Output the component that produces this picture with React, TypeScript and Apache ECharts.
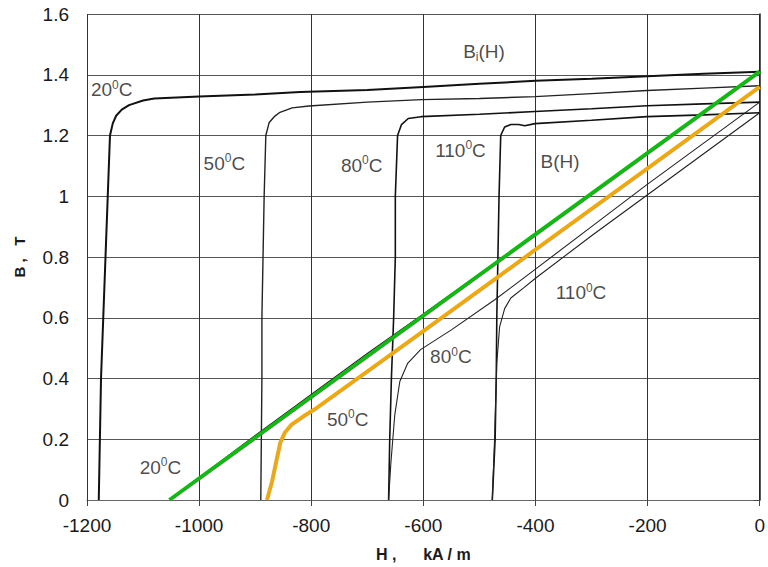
import React, { useEffect, useRef } from "react";
import * as echarts from "echarts";

// Intrinsic demagnetization curves Bi(H)  [H kA/m, B T]
const BI_20 = [[-1179,0],[-1175,0.4],[-1171,0.6],[-1167,0.8],[-1163,1.0],[-1159,1.2],[-1154,1.24],[-1148,1.265],[-1138,1.285],[-1125,1.3],[-1100,1.315],[-1080,1.322],[-1000,1.328],[-900,1.335],[-820,1.343],[-700,1.35],[-600,1.36],[-500,1.37],[-400,1.38],[-300,1.387],[-200,1.395],[-100,1.403],[0,1.41]];
const BI_50 = [[-890,0],[-888,0.4],[-888,0.6],[-886,0.8],[-884,1.0],[-881,1.2],[-875,1.243],[-866,1.262],[-857,1.275],[-834,1.291],[-804,1.297],[-700,1.31],[-603,1.318],[-500,1.322],[-401,1.328],[-300,1.338],[-201,1.348],[-100,1.356],[0,1.364]];
const BI_80 = [[-662,0],[-660,0.2],[-657,0.4],[-653,0.6],[-650,0.8],[-650,1.0],[-646,1.2],[-639,1.236],[-627,1.256],[-604,1.262],[-500,1.27],[-401,1.279],[-300,1.288],[-201,1.298],[-100,1.304],[0,1.31]];
const BI_110 = [[-477,0],[-472,0.2],[-470,0.4],[-469,0.6],[-467,0.8],[-465,1.0],[-462,1.2],[-455,1.228],[-444,1.236],[-430,1.236],[-419,1.232],[-401,1.239],[-300,1.25],[-201,1.262],[-100,1.268],[0,1.275]];

// Normal demagnetization curves B(H)
const B_20_BLACK = [[-1050,0.005],[-900,0.212],[-800,0.347],[-700,0.482],[-600,0.612],[-400,0.877],[-200,1.142],[0,1.41]];
const B_80 = [[-662,0],[-658,0.12],[-651,0.28],[-642,0.39],[-628,0.45],[-605,0.495],[-550,0.56],[-472,0.66],[-400,0.76],[-300,0.9],[-200,1.04],[-100,1.175],[0,1.31]];
const B_110 = [[-477,0],[-473,0.2],[-469,0.45],[-464,0.57],[-455,0.63],[-444,0.665],[-420,0.7],[-400,0.73],[-300,0.87],[-200,1.005],[-100,1.14],[0,1.275]];
const B_20_GREEN = [[-1053,0],[0,1.41]];
const B_50_ORANGE = [[-879,0],[-870,0.06],[-862,0.13],[-855,0.19],[-847,0.222],[-835,0.248],[-815,0.274],[-795,0.297],[-650,0.489],[-600,0.556],[-400,0.824],[-200,1.092],[0,1.36]];

// Text annotations: [H, B, rich text]
const LABELS: [number, number, string][] = [
  [-529, 1.475, "{a|B}{sub|i}{a|(H)}"],
  [-1193, 1.351, "{a|20}{sup|0}{a|C}"],
  [-992, 1.108, "{a|50}{sup|0}{a|C}"],
  [-747, 1.102, "{a|80}{sup|0}{a|C}"],
  [-579, 1.151, "{a|110}{sup|0}{a|C}"],
  [-391, 1.115, "{a|B(H)}"],
  [-364, 0.682, "{a|110}{sup|0}{a|C}"],
  [-588, 0.472, "{a|80}{sup|0}{a|C}"],
  [-772, 0.266, "{a|50}{sup|0}{a|C}"],
  [-1106, 0.108, "{a|20}{sup|0}{a|C}"],
];

const X_MIN = -1200, X_MAX = 0, X_STEP = 200;
const Y_MIN = 0, Y_MAX = 1.6, Y_STEP = 0.2;

const FONT = "Liberation Sans, Arial, sans-serif";

export default function App() {
  const ref = useRef<HTMLDivElement>(null);
  useEffect(() => {
    if (!ref.current) return;
    const chart = echarts.init(ref.current, null, { renderer: "svg" });
    const line = (data: number[][], color: string, width: number, z = 2) => ({
      type: "line",
      data,
      showSymbol: false,
      symbol: "none",
      smooth: false,
      lineStyle: { color, width },
      z,
      silent: true,
    });
    chart.setOption({
      animation: false,
      backgroundColor: "#ffffff",
      grid: { left: 87, right: 5, top: 14, bottom: 65 },
      xAxis: {
        type: "value",
        min: X_MIN,
        max: X_MAX,
        interval: X_STEP,
        name: "H ,      kA / m",
        nameLocation: "middle",
        nameGap: 46,
        nameTextStyle: { fontFamily: FONT, fontSize: 16, fontWeight: "bold", color: "#1a1a1a" },
        axisLine: { show: true, lineStyle: { color: "#666", width: 1 } },
        axisTick: { show: true, inside: false, length: 6, lineStyle: { color: "#444" } },
        axisLabel: { fontFamily: FONT, fontSize: 19, color: "#1a1a1a", margin: 16, formatter: (v: number) => String(v) },
        splitLine: { show: true, lineStyle: { color: "#333", width: 1 } },
      },
      yAxis: {
        type: "value",
        min: Y_MIN,
        max: Y_MAX,
        interval: Y_STEP,
        name: "B ,   T",
        nameLocation: "middle",
        nameRotate: 90,
        nameGap: 60,
        nameTextStyle: { fontFamily: FONT, fontSize: 15, fontWeight: "bold", color: "#1a1a1a" },
        axisLine: { show: true, lineStyle: { color: "#222", width: 1.5 } },
        axisTick: { show: true, inside: false, length: 6, lineStyle: { color: "#444" } },
        axisLabel: { fontFamily: FONT, fontSize: 19, color: "#1a1a1a", margin: 18 },
        splitLine: { show: true, lineStyle: { color: "#555", width: 1 } },
      },
      series: [
        line(BI_20, "#111", 2),
        line(BI_50, "#222", 1.4),
        line(BI_80, "#111", 1.6),
        line(BI_110, "#111", 1.6),
        line(B_20_BLACK, "#222", 1.2),
        line(B_80, "#222", 1.1),
        line(B_110, "#222", 1.1),
        line(B_50_ORANGE, "#e8a91c", 4, 4),
        line(B_20_GREEN, "#1bb31b", 4, 5),
        {
          type: "scatter",
          data: LABELS.map((l) => ({ value: [l[0], l[1]], text: l[2] })),
          symbolSize: 0,
          silent: true,
          z: 10,
          label: {
            show: true,
            position: "right",
            distance: 0,
            formatter: (p: any) => p.data.text,
            rich: {
              a: { fontFamily: FONT, fontSize: 19, color: "#1a1a1a", lineHeight: 22 },
              sup: { fontFamily: FONT, fontSize: 12, color: "#1a1a1a", lineHeight: 22, verticalAlign: "top", padding: [0, 0, 10, 0] },
              sub: { fontFamily: FONT, fontSize: 12, color: "#1a1a1a", lineHeight: 22, verticalAlign: "bottom", padding: [8, 0, 0, 0] },
            },
          },
        },
      ],
    });
    return () => chart.dispose();
  }, []);
  return (
    <div
      ref={ref}
      style={{ position: "fixed", left: 0, top: 0, width: 768, height: 567, background: "#fff" }}
    />
  );
}
